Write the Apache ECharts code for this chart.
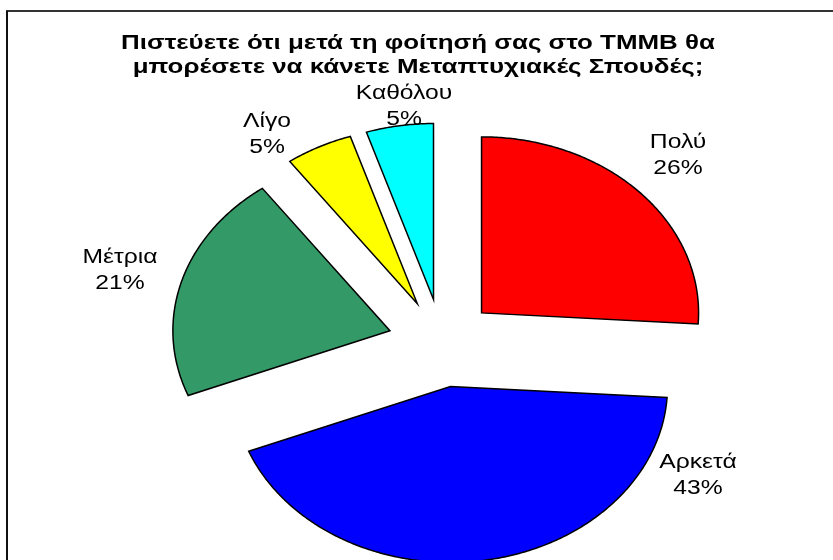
<!DOCTYPE html>
<html>
<head>
<meta charset="utf-8">
<script src="https://cdn.jsdelivr.net/npm/echarts@6/dist/echarts.min.js"></script>
<style>
  html, body { margin: 0; padding: 0; background: #fff; }
  #chart { width: 833px; height: 560px; }
</style>
</head>
<body>
<div id="chart"></div>
<script>
// Survey answers and their shares (%)
const categories = ['Πολύ', 'Αρκετά', 'Μέτρια', 'Λίγο', 'Καθόλου'];
const shares = [26, 43, 21, 5, 5];
const sliceColors = ['#FF0000', '#0000FF', '#339966', '#FFFF00', '#00FFFF'];
const titleLines = [
  'Πιστεύετε ότι μετά τη φοίτησή σας στο ΤΜΜΒ θα',
  'μπορέσετε να κάνετε Μεταπτυχιακές Σπουδές;'
];

// Layout: the whole chart is drawn widened horizontally by STRETCH
const STRETCH = 1.233;
const PIE = { cx: 442, cy: 343, ry: 176, explode: 44 };
PIE.rx = PIE.ry * STRETCH;
const FONT = '"Liberation Sans", Arial, sans-serif';
// Where each slice's label block is centred
const labelAt = [[678, 155], [698, 475], [120, 270], [267, 134], [404, 106]];

const total = shares.reduce((a, b) => a + b, 0);
const startAngles = [];
let acc = 0;
shares.forEach(v => { startAngles.push(acc / total * 2 * Math.PI); acc += v; });

function renderSlice(params, api) {
  const i = params.dataIndex;
  const v = api.value(0);
  const a0 = startAngles[i];
  const a1 = a0 + v / total * 2 * Math.PI;
  const mid = (a0 + a1) / 2;
  // apex of the exploded slice
  const ox = PIE.cx + PIE.explode * Math.sin(mid) * STRETCH;
  const oy = PIE.cy - PIE.explode * Math.cos(mid);
  const pts = [[ox, oy]];
  const n = Math.max(8, Math.ceil((a1 - a0) / 0.01));
  for (let k = 0; k <= n; k++) {
    const t = a0 + (a1 - a0) * k / n;
    pts.push([ox + PIE.rx * Math.sin(t), oy - PIE.ry * Math.cos(t)]);
  }
  return {
    type: 'group',
    children: [
      {
        type: 'polygon',
        shape: { points: pts },
        style: { fill: api.visual('color'), stroke: '#000', lineWidth: 1.5, lineJoin: 'miter' }
      },
      {
        type: 'text',
        x: labelAt[i][0],
        y: labelAt[i][1],
        scaleX: STRETCH,
        style: {
          text: categories[i] + '\n' + v + '%',
          fill: '#000',
          font: '20px ' + FONT,
          align: 'center',
          verticalAlign: 'middle',
          lineHeight: 26
        }
      }
    ]
  };
}

const chart = echarts.init(document.getElementById('chart'), null, { renderer: 'canvas' });
chart.setOption({
  animation: false,
  backgroundColor: '#fff',
  graphic: [
    { type: 'line', shape: { x1: 6, y1: 11, x2: 833, y2: 11 }, style: { stroke: '#333', lineWidth: 2 } },
    { type: 'line', shape: { x1: 7, y1: 11, x2: 7, y2: 560 }, style: { stroke: '#111', lineWidth: 2 } },
    {
      type: 'text',
      x: 418,
      y: 55,
      scaleX: STRETCH,
      style: {
        text: titleLines.join('\n'),
        fill: '#000',
        font: 'bold 21px ' + FONT,
        align: 'center',
        verticalAlign: 'middle',
        lineHeight: 24
      }
    }
  ],
  series: [{
    type: 'custom',
    coordinateSystem: 'none',
    renderItem: renderSlice,
    data: shares.map((v, i) => ({ value: v, name: categories[i], itemStyle: { color: sliceColors[i] } }))
  }]
});
</script>
</body>
</html>
